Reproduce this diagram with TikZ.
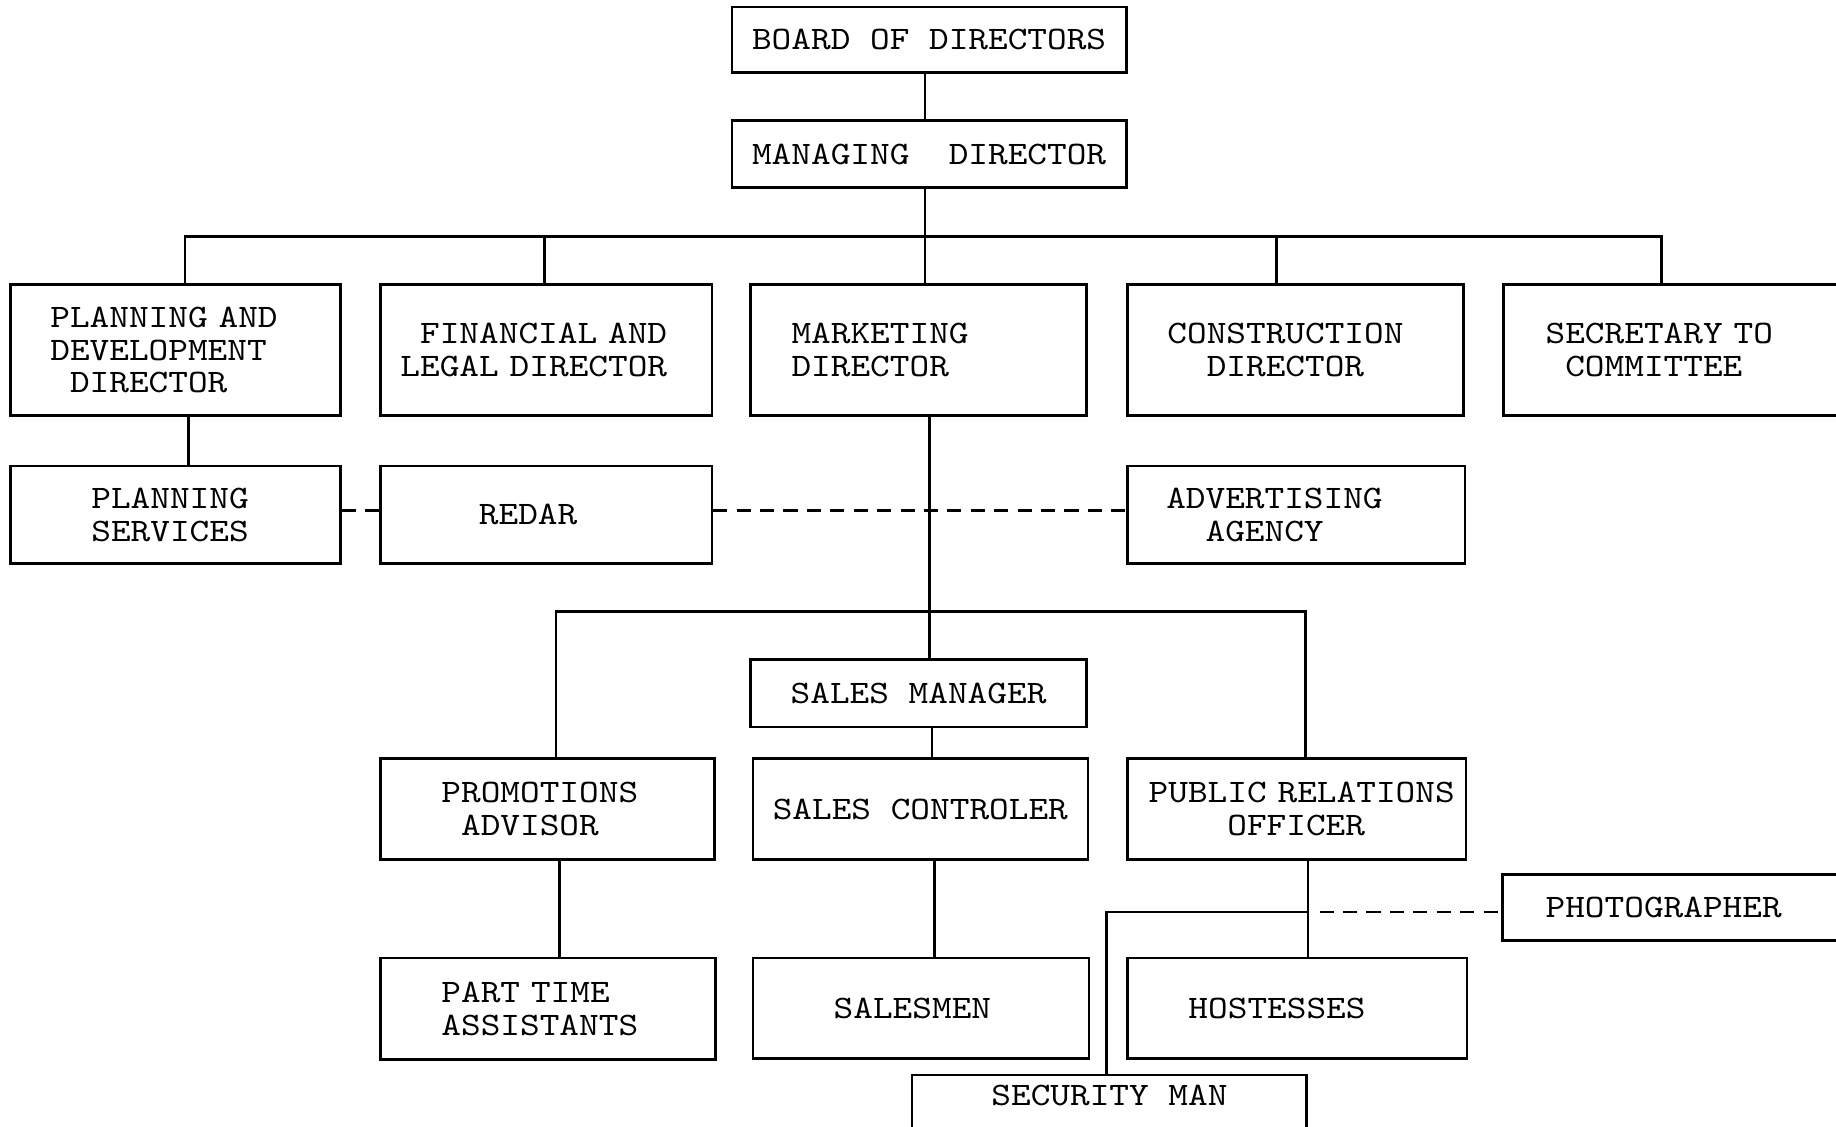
\documentclass[tikz,border=0pt]{standalone}
\usepackage{fontspec}
\newfontfamily\typew{lmmono10-regular}[Extension=.otf,FakeStretch=1.143]
\newcommand\boxfont{\typew\fontsize{28}{28}\selectfont\fontdimen2\font=16.8pt\relax\fontdimen3\font=0pt\relax\fontdimen4\font=0pt\relax}
\begin{document}
\begin{tikzpicture}[x=1pt,y=-1pt,
  box/.style={draw,line width=2.2pt,inner sep=0pt,align=left,font=\boxfont},
  cbox/.style={box,align=center},
  link/.style={line width=2.2pt},
  dlink/.style={line width=2.2pt,dash pattern=on 12pt off 8pt}]
\useasboundingbox (0,0) rectangle (1568,962);
\fill[white] (0,0) rectangle (1568,962);
\clip (0,0) rectangle (1568,962);

% top
\node[cbox,minimum width=337pt,minimum height=56pt] (board) at (793.5,34) {BOARD OF DIRECTORS};
\node[cbox,minimum width=337pt,minimum height=57pt] (md) at (793.5,131.5) {MANAGING~~DIRECTOR};

% directors
\node[box,minimum width=282pt,minimum height=112pt,text width=214pt] (pdd) at (150,299) {PLANNING AND\\DEVELOPMENT\\\hspace*{16.8pt}DIRECTOR};
\node[box,minimum width=283pt,minimum height=112pt,text width=249pt] (fin) at (466.5,299) {\hspace*{16.8pt}FINANCIAL AND\\LEGAL DIRECTOR};
\node[box,minimum width=287pt,minimum height=112pt,text width=217pt] (mkt) at (784.5,299) {MARKETING\\DIRECTOR};
\node[box,minimum width=287pt,minimum height=112pt,text width=219pt] (con) at (1106.5,299) {CONSTRUCTION\\\hspace*{33.6pt}DIRECTOR};
\node[box,minimum width=287pt,minimum height=112pt,text width=215pt] (sec) at (1427.5,299) {SECRETARY TO\\\hspace*{16.8pt}COMMITTEE};

% second row
\node[box,minimum width=282pt,minimum height=83pt,text width=144pt] (ps) at (150,439.5) {PLANNING\\SERVICES};
\node[box,minimum width=283pt,minimum height=83pt,text width=115pt] (redar) at (466.5,439.5) {REDAR};
\node[box,minimum width=288pt,minimum height=83pt,text width=222pt] (adv) at (1107,439.5) {ADVERTISING\\\hspace*{33.6pt}AGENCY};

% sales
\node[cbox,minimum width=287pt,minimum height=58pt] (sm) at (784.5,592) {SALES MANAGER};
\node[box,minimum width=285pt,minimum height=86pt,text width=181pt] (pa) at (467.5,691) {PROMOTIONS\\\hspace*{16.8pt}ADVISOR};
\node[cbox,minimum width=286pt,minimum height=86pt] (sc) at (786,691) {SALES CONTROLER};
\node[box,minimum width=289pt,minimum height=86pt,text width=253pt] (pro) at (1107.5,691) {\mbox{PUBLIC RELATIONS}\\\hspace*{67.2pt}OFFICER};

% bottom
\node[box,minimum width=286pt,minimum height=87pt,text width=182pt] (pta) at (468,861.5) {PART TIME\\ASSISTANTS};
\node[box,minimum width=287pt,minimum height=86pt,text width=149pt] (sal) at (786.5,861) {SALESMEN};
\node[box,minimum width=290pt,minimum height=86pt,text width=186pt] (hos) at (1108,861) {HOSTESSES};
\node[box,minimum width=287pt,minimum height=56pt,text width=213pt] (photo) at (1426.5,775) {PHOTOGRAPHER};
\node[draw,line width=2.2pt,inner sep=0pt,font=\boxfont,minimum width=337pt,text height=26pt,text depth=40pt,anchor=north] (secm) at (947.5,917) {SECURITY MAN};

% coordinates
\coordinate (b1L) at (158,202);
\coordinate (b1R) at (1419,202);
\coordinate (tMd) at (790,202);
\coordinate (tFin) at (465,202);
\coordinate (tCon) at (1090,202);
\coordinate (tPs) at (161,380);
\coordinate (dashY) at (0,436);
\coordinate (tMk) at (794,522);
\coordinate (b2L) at (475,522);
\coordinate (b2R) at (1115,522);
\coordinate (tSc) at (796,635);
\coordinate (tPa) at (478,780);
\coordinate (tSal) at (798,780);
\coordinate (jn) at (1117,779);
\coordinate (sk) at (945,779);

% connectors
\draw[link] (tMd |- board.south) -- (tMd |- md.north);
\draw[link] (tMd |- md.south) -- (tMd |- mkt.north);
\draw[link] (b1L |- pdd.north) -- (b1L) -- (b1R) -- (b1R |- sec.north);
\draw[link] (tFin) -- (tFin |- fin.north);
\draw[link] (tCon) -- (tCon |- con.north);
\draw[link] (tPs |- pdd.south) -- (tPs |- ps.north);
\draw[dlink] (ps.east |- dashY) -- (redar.west |- dashY);
\draw[dlink] (redar.east |- dashY) -- (adv.west |- dashY);
\draw[link] (tMk |- mkt.south) -- (tMk |- sm.north);
\draw[link] (b2L |- pa.north) -- (b2L) -- (b2R) -- (b2R |- pro.north);
\draw[link] (tSc |- sm.south) -- (tSc |- sc.north);
\draw[link] (tPa |- pa.south) -- (tPa |- pta.north);
\draw[link] (tSal |- sc.south) -- (tSal |- sal.north);
\draw[link] (jn |- pro.south) -- (jn |- hos.north);
\draw[link] (jn) -- (sk) -- (sk |- secm.north);
\draw[dlink] ([xshift=10pt]jn) -- (photo.west |- jn);
\end{tikzpicture}
\end{document}
